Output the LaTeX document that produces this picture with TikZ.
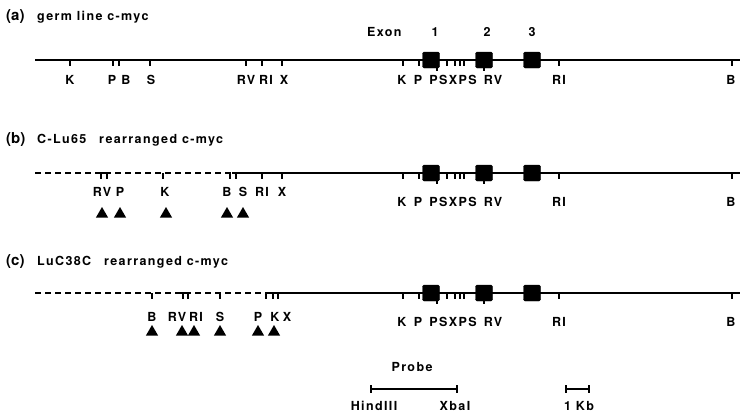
\documentclass[tikz,border=0pt]{standalone}
\usepackage{fontspec}
\setmainfont{TeX Gyre Heros}
\newfontfamily\lab{texgyreheros-bold.otf}[LetterSpace=11]
\newfontfamily\tagfont{texgyreheros-bold.otf}
\usetikzlibrary{shapes.geometric}
\tikzset{
  dna/.style={line width=1.8pt},
  dnadash/.style={line width=1.8pt, dash pattern=on 6pt off 4pt},
  tk/.style={line width=1.4pt},
  exon/.style={fill=black, draw=black, rounded corners=1.5pt, minimum width=17pt, minimum height=16pt, inner sep=0pt},
  site/.style={font=\lab\fontsize{12.5}{14}\selectfont, inner sep=0pt},
  ttl/.style={font=\lab\fontsize{12.5}{14}\selectfont, inner sep=0pt, anchor=west},
  tag/.style={font=\tagfont\fontsize{15}{17}\selectfont, inner sep=0pt, anchor=west},
  tri/.style={regular polygon, regular polygon sides=3, fill=black, minimum size=14pt, inner sep=0pt},
}
\begin{document}
\begin{tikzpicture}[x=1pt,y=-1pt]
\useasboundingbox (0,0) rectangle (747,416);
% ---------- common right part for each row ----------
\newcommand{\rightpart}[3]{% #1 = line y, #2 = label y, #3 = row name
  \node[exon] (#3e1) at (431,#1) {};
  \node[exon] (#3e2) at (484,#1) {};
  \node[exon] (#3e3) at (532,#1) {};
  \foreach \xx in {403,419,447,455,460,464,559,732} \draw[tk] (\xx,#1) -- ++(0,5.5);
  \draw[tk] (437,#1) -- ++(0,11);
  \draw[tk] (484,#1) -- ++(0,11);
  \node[site] (#3k) at (402,#2) {K};
  \node[site] (#3p) at (418,#2) {P};
  \node[site] (#3ps) at (453,#2) {PSXPS};
  \node[site] (#3rv) at (493,#2) {RV};
  \node[site] (#3ri) at (559,#2) {RI};
  \node[site] (#3b) at (731,#2) {B};
}
% ---------- (a) ----------
\node[tag] (ta) at (6,17) {(a)};
\node[ttl] (tta) at (37,17) {germ line c-myc};
\node[ttl] (exon) at (367,32) {Exon};
\node[site] (n1) at (435,32) {1};
\node[site] (n2) at (487,32) {2};
\node[site] (n3) at (532,32) {3};
\coordinate (a0) at (35,60);
\coordinate (a1) at (740,60);
\draw[dna] (a0) -- (a1);
\rightpart{60}{80}{a}
\foreach \xx in {70,113,119,150,246,262,282} \draw[tk] (\xx,60) -- ++(0,5.5);
\node[site] (ak) at (70,80) {K};
\node[site] (apl) at (112,80) {P};
\node[site] (abl) at (126,80) {B};
\node[site] (asl) at (151,80) {S};
\node[site] (arvl) at (246,80) {RV};
\node[site] (aril) at (266,80) {RI};
\node[site] (axl) at (284,80) {X};
% ---------- (b) ----------
\node[tag] (tb) at (6,140) {(b)};
\node[ttl] (ttb) at (37,140) {C-Lu65\hspace{8pt} rearranged c-myc};
\coordinate (b0) at (35,173);
\coordinate (bm) at (232,173);
\coordinate (b1) at (740,173);
\draw[dnadash] (b0) -- (bm);
\draw[dna] (bm) -- (b1);
\rightpart{173}{202}{b}
\draw[tk] (100,173) -- (108,173);
\foreach \xx in {101,107,163,230,236,262,282} \draw[tk] (\xx,173) -- ++(0,5.5);
\node[site] (brv) at (102,192) {RV};
\node[site] (bpl) at (120,192) {P};
\node[site] (bkl) at (165,192) {K};
\node[site] (bbl) at (227,192) {B};
\node[site] (bsl) at (243,192) {S};
\node[site] (bril) at (262,192) {RI};
\node[site] (bxl) at (282,192) {X};
\foreach \xx/\nm in {102/1,120/2,166/3,227/4,243/5} \node[tri] (bt\nm) at (\xx,214) {};
% ---------- (c) ----------
\node[tag] (tc) at (6,262) {(c)};
\node[ttl] (ttc) at (37,262) {LuC38C\hspace{8pt} rearranged c-myc};
\coordinate (c0) at (35,293);
\coordinate (cm) at (267,293);
\coordinate (c1) at (740,293);
\draw[dnadash] (c0) -- (cm);
\draw[dna] (cm) -- (c1);
\rightpart{293}{322}{c}
\draw[tk] (181,293) -- (190,293);
\draw[tk] (272,293) -- (280,293);
\foreach \xx in {152,183,188,220,266,273,278} \draw[tk] (\xx,293) -- ++(0,6);
\node[site] (cbl) at (152,317) {B};
\node[site] (crvl) at (177,317) {RV};
\node[site] (cril) at (196,317) {RI};
\node[site] (csl) at (220,317) {S};
\node[site] (cpl) at (258,317) {P};
\node[site] (ckl) at (275,317) {K};
\node[site] (cxl) at (287,317) {X};
\foreach \xx/\nm in {152/1,182/2,194/3,220/4,258/5,274/6} \node[tri] (ct\nm) at (\xx,332) {};
% ---------- probe and scale ----------
\node[site] (probe) at (412,367) {Probe};
\coordinate (p0) at (371,389);
\coordinate (p1) at (457,389);
\draw[line width=1.7pt] (p0) -- (p1);
\draw[line width=1.4pt] (371,385) -- (371,393) (457,385) -- (457,393);
\node[site] (hind) at (374,406) {HindIII};
\node[site] (xba) at (455,406) {XbaI};
\coordinate (s0) at (566,389);
\coordinate (s1) at (589,389);
\draw[line width=1.7pt] (s0) -- (s1);
\draw[line width=1.4pt] (566,385) -- (566,393) (589,385) -- (589,393);
\node[site] (kb) at (579,406) {1 Kb};
\end{tikzpicture}
\end{document}
